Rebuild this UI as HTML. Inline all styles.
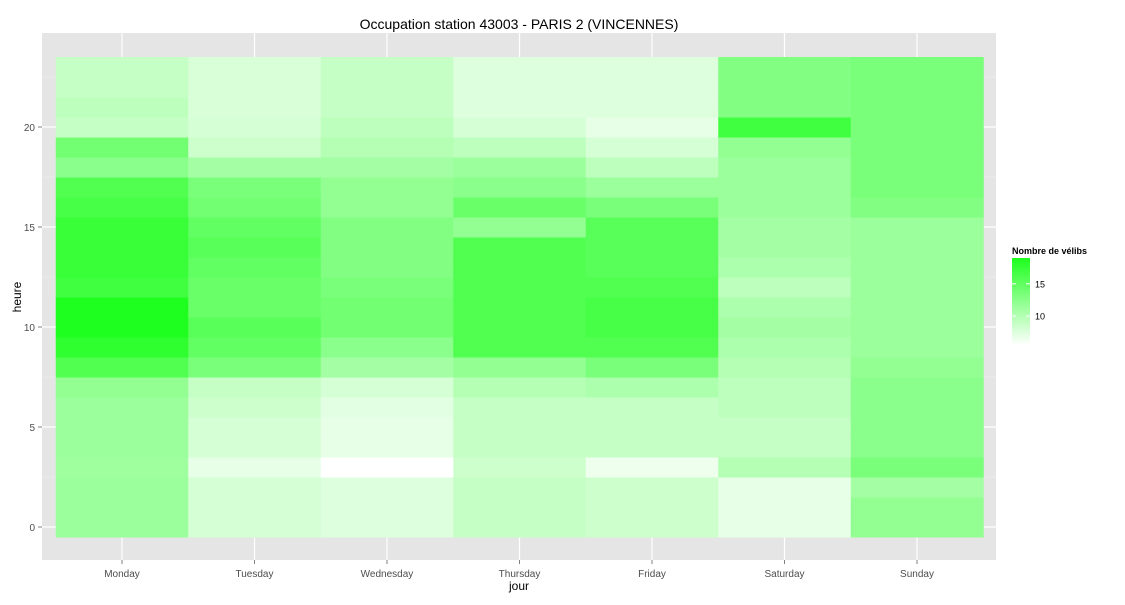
<!DOCTYPE html>
<html><head><meta charset="utf-8"><style>
body{margin:0;background:#fff;font-family:"Liberation Sans",sans-serif;}
</style></head><body>
<svg id="c" width="1125" height="600" xmlns="http://www.w3.org/2000/svg"></svg>
<script>
const days=["Monday","Tuesday","Wednesday","Thursday","Friday","Saturday","Sunday"];
const mon=[11.5,11.5,11.5,11.3,11.5,11.5,11.5,12,16,18,19,19,17,17.5,17.5,17.5,16.5,16,12.5,14,9,9.5,9,9];
const tue=[8,8,8,7,8,8,8.5,9,13.5,15,15.5,14.5,14.5,15,15.5,15,14,13.5,11,8.5,8,7.8,7.8,7.8];
const wed=[7.5,7.5,7.5,5.5,7,7,7.2,8,11,12.5,14,14,13.5,13,13,13,12,12,11,10,9.5,9,9,9];
const thu=[9,9,9,8.5,9,9,9,10,12,16,16,16,16,16,16,12,14.5,12.5,11.5,9.5,8,7.5,7.5,7.5];
const fri=[8.5,8.5,8.5,6.5,9,9,9,10.5,13.5,16,16.5,16.5,16,15.5,15.5,15.5,13.5,11.5,9.5,8,7,7.5,7.5,7.5];
const sat=[7,7,7,10,9,9,9.5,9.5,10,10.5,11,10.5,9.5,10.5,11,11,11.5,11.5,11.5,12,17,13,13,13];
const sun=[12,12,11,13.5,12.5,12.5,12.5,12.5,12,11.5,11.5,11.5,11.5,11.5,11.5,11.5,13,13.5,13.5,13.5,13.5,13.5,13.5,13.5];
const series=[mon,tue,wed,thu,fri,sat,sun];
const yTicks=[0,5,10,15,20];
const legendTicks=[10,15];
const vmin=5.5,vmax=19;

const NS="http://www.w3.org/2000/svg",svg=document.getElementById('c');
function el(t,a,txt){const e=document.createElementNS(NS,t);for(const k in a)e.setAttribute(k,a[k]);if(txt!=null)e.textContent=txt;svg.appendChild(e);return e;}
const x=i=>122+132.5*i, bw=132.5;
const y=h=>527-20*h;
function col(v){const t=Math.max(0,Math.min(1,(v-vmin)/(vmax-vmin)));const c=Math.round(255*(1-t*0.88));return `rgb(${c},255,${c})`;}

let e=el('rect',{x:42,y:33,width:954,height:527,fill:'#e5e5e5'});

for(let h=-2.5;h<=27.5;h+=5){if(y(h)>33&&y(h)<560){el('line',{x1:42,x2:996,y1:y(h),y2:y(h),stroke:'#f2f2f2','stroke-width':0.6});}}
yTicks.forEach(h=>{el('line',{x1:42,x2:996,y1:y(h),y2:y(h),stroke:'#fff','stroke-width':1.2});});
days.forEach((d,i)=>{el('line',{x1:x(i),x2:x(i),y1:33,y2:560,stroke:'#fff','stroke-width':1.2});});
series.forEach((s,i)=>{s.forEach((v,h)=>{
 const r=el('rect',{x:x(i)-bw/2,y:y(h)-10,width:bw+0.5,height:20.5,fill:col(v)});
 
 
});});
yTicks.forEach(h=>{
 el('line',{x1:38,x2:42,y1:y(h),y2:y(h),stroke:'#7f7f7f'});
 const t=el('text',{x:35,y:y(h)+4,'text-anchor':'end','font-size':10,fill:'#4d4d4d'},h);
 
});
days.forEach((d,i)=>{
 el('line',{x1:x(i),x2:x(i),y1:560,y2:564,stroke:'#7f7f7f'});
 const t=el('text',{x:x(i),y:577,'text-anchor':'middle','font-size':10,fill:'#4d4d4d'},d);
 
});
e=el('text',{x:519,y:590,'text-anchor':'middle','font-size':12,fill:'#000'},'jour');

e=el('text',{x:21,y:297,'text-anchor':'middle','font-size':12,transform:'rotate(-90 21 297)'},'heure');

e=el('text',{x:519,y:29,'text-anchor':'middle','font-size':14},'Occupation station 43003 - PARIS 2 (VINCENNES)');

// legend
e=el('text',{x:1012,y:254,'font-size':9,'font-weight':'bold'},'Nombre de vélibs');

const lt=258,lb=345,ly=v=>lb-(v-vmin)/(vmax-vmin)*(lb-lt);
for(let k=0;k<40;k++){const v0=vmin+(vmax-vmin)*k/40,v1=vmin+(vmax-vmin)*(k+1)/40;
 el('rect',{x:1012,y:ly(v1),width:18,height:ly(v0)-ly(v1)+0.5,fill:col((v0+v1)/2)});}
legendTicks.forEach(v=>{
 el('line',{x1:1012,x2:1016,y1:ly(v),y2:ly(v),stroke:'#fff'});
 el('line',{x1:1026,x2:1030,y1:ly(v),y2:ly(v),stroke:'#fff'});
 const t=el('text',{x:1035,y:ly(v)+3.5,'font-size':9},v);
 
});
</script>
</body></html>
